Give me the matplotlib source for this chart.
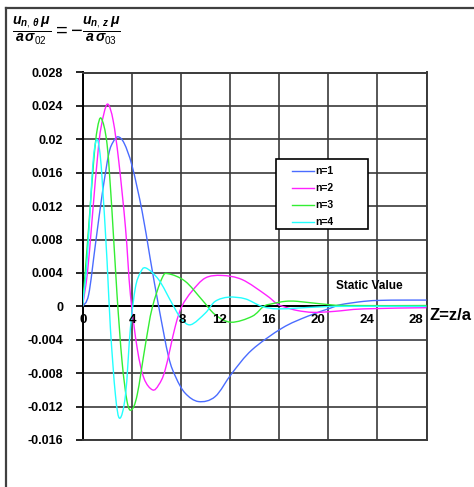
import matplotlib
matplotlib.use("Agg")
import matplotlib.pyplot as plt
from matplotlib.lines import Line2D
from matplotlib.patches import Rectangle, PathPatch
from matplotlib.path import Path

# ---- data ----
z_n1 = [0, 0.5, 1.05, 1.6, 2.13, 2.5, 2.9, 3.4, 4.04, 4.85, 5.5, 6.2, 7.0, 7.6, 8.36, 9.45, 10.8, 12.17, 13.8, 16.25, 18.3, 20.2, 21.0, 22.9, 24.3, 26.0, 28.0]
v_n1 = [0, 0.0014, 0.0074, 0.0134, 0.0182, 0.0197, 0.0203, 0.0195, 0.0168, 0.0114, 0.0058, 0.0, -0.006, -0.0085, -0.0104, -0.0114, -0.0108, -0.008, -0.0052, -0.0026, -0.0012, -0.0002, 0.0002, 0.0006, 0.00072, 0.00075, 0.00075]

z_n2 = [0, 0.4, 0.77, 1.32, 1.73, 2.08, 2.5, 2.95, 3.5, 3.9, 4.45, 5.0, 5.7, 6.2, 6.73, 7.55, 8.09, 8.9, 10.0, 11.35, 13.0, 14.9, 15.84, 16.5, 17.5, 18.8, 20.5, 22.9, 28.0]
v_n2 = [0, 0.004, 0.0102, 0.0194, 0.023, 0.0242, 0.0222, 0.0174, 0.0094, 0.0014, -0.005, -0.0086, -0.0100, -0.0094, -0.0076, -0.0024, 0.0, 0.0018, 0.0034, 0.0037, 0.0032, 0.0014, 0.0003, -0.0001, -0.0005, -0.00072, -0.0006, -0.0003, -0.00016]

z_n3 = [0, 0.5, 0.91, 1.2, 1.53, 2.0, 2.4, 2.81, 3.22, 3.63, 3.98, 4.45, 5.12, 5.67, 6.48, 7.0, 8.36, 9.72, 10.8, 12.1, 13.8, 14.75, 15.4, 16.5, 17.5, 19.4, 21.5, 28.0]
v_n3 = [0, 0.0094, 0.0174, 0.0212, 0.0225, 0.0194, 0.0114, 0.0014, -0.0066, -0.0114, -0.0124, -0.0106, -0.0046, -0.0002, 0.0034, 0.0039, 0.003, 0.0008, -0.001, -0.0019, -0.0012, 0.0, 0.0003, 0.0006, 0.0006, 0.0003, 0.0001, 0.0001]

z_n4 = [0, 0.37, 0.77, 0.97, 1.18, 1.38, 1.59, 2.0, 2.27, 2.68, 3.03, 3.5, 3.9, 4.3, 4.7, 5.15, 6.2, 7.27, 8.0, 8.8, 10.0, 10.8, 11.9, 13.25, 14.6, 16.0, 18.8, 21.0, 28.0]
v_n4 = [0, 0.0054, 0.0154, 0.0188, 0.020, 0.0188, 0.0154, 0.0054, -0.0026, -0.0106, -0.0134, -0.0106, -0.0026, 0.0022, 0.0040, 0.0046, 0.0032, 0.0004, -0.0014, -0.0022, -0.0008, 0.0006, 0.0011, 0.0009, 0.0, -0.0003, -0.0001, 0.0, 0.0]

series_labels = ["n=1", "n=2", "n=3", "n=4"]
series_colors = ["#4a6cff", "#ff22ff", "#33ee33", "#22ffff"]

x_ticks = [0, 4, 8, 12, 16, 20, 24, 28]
x_tick_labels = ["0", "4", "8", "12", "16", "20", "24", "28"]
y_ticks = [0.028, 0.024, 0.02, 0.016, 0.012, 0.008, 0.004, 0, -0.004, -0.008, -0.012, -0.016]
y_tick_labels = ["0.028", "0.024", "0.02", "0.016", "0.012", "0.008", "0.004", "0",
                 "-0.004", "-0.008", "-0.012", "-0.016"]


def smooth_path(xs, ys):
    """Excel-style smoothed line: Catmull-Rom segments as cubic Bezier curves."""
    pts = list(zip(xs, ys))
    verts = [pts[0]]
    codes = [Path.MOVETO]
    n = len(pts)
    for i in range(n - 1):
        p0 = pts[i - 1] if i > 0 else pts[i]
        p1 = pts[i]
        p2 = pts[i + 1]
        p3 = pts[i + 2] if i + 2 < n else pts[i + 1]
        c1 = (p1[0] + (p2[0] - p0[0]) / 6.0, p1[1] + (p2[1] - p0[1]) / 6.0)
        c2 = (p2[0] - (p3[0] - p1[0]) / 6.0, p2[1] - (p3[1] - p1[1]) / 6.0)
        verts += [c1, c2, p2]
        codes += [Path.CURVE4] * 3
    return Path(verts, codes)


# ---- figure ----
plt.rcParams["font.family"] = ["Liberation Sans", "DejaVu Sans"]
plt.rcParams["mathtext.fontset"] = "custom"
plt.rcParams["mathtext.rm"] = "Liberation Sans"
plt.rcParams["mathtext.it"] = "Liberation Sans:italic:bold"
plt.rcParams["mathtext.bf"] = "Liberation Sans:bold"

W, H = 474, 487
fig = plt.figure(figsize=(W / 100, H / 100), dpi=100)
fig.patch.set_facecolor("white")

x0, x1, y0, y1 = 82.5, 426.5, 72.5, 440.0
ax = fig.add_axes([x0 / W, 1 - y1 / H, (x1 - x0) / W, (y1 - y0) / H])
ax.set_xlim(0, 28)
ax.set_ylim(-0.016, 0.028)

grid_col = "#3a3a3a"
for sp in ax.spines.values():
    sp.set_color(grid_col)
    sp.set_linewidth(1.4)
ax.spines["left"].set_color("black")

ax.set_xticks(x_ticks)
ax.set_yticks(y_ticks)
ax.set_yticklabels(y_tick_labels, fontsize=9, fontweight="bold")
ax.tick_params(axis="y", direction="out", length=5, width=1.2, pad=9, color="black")
ax.tick_params(axis="x", length=0, labelbottom=False)
ax.grid(True, color=grid_col, linewidth=1.2)
ax.set_axisbelow(True)
ax.axhline(0, color="black", linewidth=1.4, zorder=1.5)

handles = []
for z, v, lab, col in zip([z_n1, z_n2, z_n3, z_n4], [v_n1, v_n2, v_n3, v_n4],
                          series_labels, series_colors):
    ax.add_patch(PathPatch(smooth_path(z, v), facecolor="none", edgecolor=col,
                           linewidth=1.0, zorder=3))
    handles.append(Line2D([], [], color=col, linewidth=1.0, label=lab))

# x tick labels placed just under the zero line
for xt, lab in zip(x_ticks, x_tick_labels):
    if len(lab) == 1:
        ax.annotate(lab, (xt, 0), xytext=(1, -14), textcoords="offset pixels",
                    ha="center", va="center", fontsize=9.5, fontweight="bold", zorder=4)
    else:
        ax.annotate(lab, (xt, 0), xytext=(-3, -14), textcoords="offset pixels",
                    ha="right", va="center", fontsize=9.5, fontweight="bold", zorder=4)

# legend box
lx0, ly0, lx1, ly1 = 275.7, 159.3, 368.3, 229.3
ax.add_patch(Rectangle((lx0 / W, 1 - ly1 / H), (lx1 - lx0) / W, (ly1 - ly0) / H,
                       transform=fig.transFigure, facecolor="white", clip_on=False,
                       edgecolor="black", linewidth=1.2, zorder=5))
leg = ax.legend(handles=handles, loc="upper left", bbox_to_anchor=(287 / W, 1 - 161 / H),
                bbox_transform=fig.transFigure, frameon=False,
                prop={"size": 7.5, "weight": "bold"}, handlelength=2.1,
                handletextpad=0.15, labelspacing=0.68, borderpad=0.0)
leg.set_zorder(6)

ax.text(369.5 / W, 1 - 285.7 / H, "Static Value", transform=fig.transFigure,
        ha="center", va="center", fontsize=8.5, fontweight="bold")
fig.text(450 / W, 1 - 315.7 / H, "Z=z/a", ha="center", va="center",
         fontsize=12, fontweight="bold")

formula = (r"$\frac{\mathit{u}_{\mathit{n,\,\theta}}\,\mu}{\mathit{a}\,\sigma_{02}}"
           r" = -\frac{\mathit{u}_{\mathit{n,\,z}}\,\mu}{\mathit{a}\,\sigma_{03}}$")
fig.text(12 / W, 1 - 31 / H, formula, ha="left", va="center", fontsize=14.5)

# outer frame (top and left edges)
fig.lines.append(Line2D([6 / W, 1.0], [1 - 7.5 / H, 1 - 7.5 / H], transform=fig.transFigure,
                        color="#404040", linewidth=1.6))
fig.lines.append(Line2D([6 / W, 6 / W], [0, 1 - 7.5 / H], transform=fig.transFigure,
                        color="#404040", linewidth=1.6))

fig.savefig("out.png", dpi=100)
